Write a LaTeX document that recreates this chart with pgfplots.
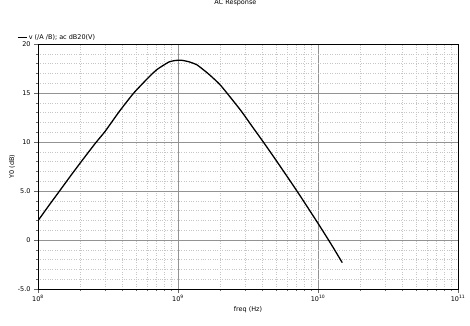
\documentclass[border=0pt]{standalone}
\usepackage{pgfplots}
\pgfplotsset{compat=1.18}
\usepackage{fontspec}
\setmainfont{DejaVu Sans}
\begin{document}
\begin{tikzpicture}[font=\fontsize{6.5}{7.5}\selectfont]
\path[use as bounding box] (-38bp,-37bp) rectangle (432bp,289bp);
\begin{axis}[
  scale only axis,
  width=420bp, height=245bp,
  at={(0,0)}, anchor=south west,
  xmode=log,
  xmin=1e8, xmax=1e11,
  ymin=-5, ymax=20,
  log basis x=10,
  xtick={1e8,1e9,1e10,1e11},
  xticklabels={10\textsuperscript{8},10\textsuperscript{9},10\textsuperscript{10},10\textsuperscript{11}},
  minor xtick={2e8,3e8,4e8,5e8,6e8,7e8,8e8,9e8,2e9,3e9,4e9,5e9,6e9,7e9,8e9,9e9,2e10,3e10,4e10,5e10,6e10,7e10,8e10,9e10},
  ytick={-5,0,5,10,15,20},
  yticklabels={-5.0,0,5.0,10,15,20},
  minor ytick={-4,-3,-2,-1,1,2,3,4,6,7,8,9,11,12,13,14,16,17,18,19},
  grid=both,
  major grid style={gray!85, line width=0.6pt},
  minor grid style={gray!45, dotted, line width=0.5pt},
  xtick pos=left, ytick pos=left,
  tick align=outside,
  major tick length=4bp, minor tick length=2bp,
  tick style={gray!80!black, line width=0.5pt},
  axis line style={black, line width=0.8pt},
  xlabel={freq (Hz)},
  ylabel={Y0 (dB)},
  xlabel style={yshift=2bp},
  ylabel style={yshift=-4bp},
  xticklabel style={yshift=1bp},
  title={AC Response},
  title style={at={(0.47,1)}, anchor=base, inner sep=0pt, yshift=34bp},
  legend style={at={(-0.05,1.005)}, anchor=south west, draw=none, fill=none, inner sep=0pt, font=\fontsize{6.5}{7.5}\selectfont},
  legend cell align=left,
  legend image code/.code={\draw[black, line width=0.6pt] (0bp,0bp) -- (9bp,0bp);},
]
\addplot[black, line width=1.3pt, smooth, tension=0.3] coordinates {
(1.00e8,1.97)
(1.20e8,3.55)
(1.40e8,4.85)
(1.70e8,6.50)
(2.00e8,7.85)
(2.56e8,9.85)
(3.02e8,11.10)
(3.80e8,13.10)
(4.81e8,14.97)
(6.17e8,16.60)
(7.08e8,17.40)
(8.57e8,18.15)
(9.60e8,18.32)
(1.07e9,18.33)
(1.20e9,18.18)
(1.37e9,17.86)
(1.65e9,16.95)
(2.01e9,15.80)
(2.79e9,13.27)
(3.40e9,11.55)
(4.10e9,9.93)
(5.12e9,7.95)
(7.11e9,4.95)
(1.00e10,1.70)
(1.25e10,-0.50)
(1.49e10,-2.31)
};
\addlegendentry{v (/A /B); ac dB20(V)}
\end{axis}
\end{tikzpicture}
\end{document}
